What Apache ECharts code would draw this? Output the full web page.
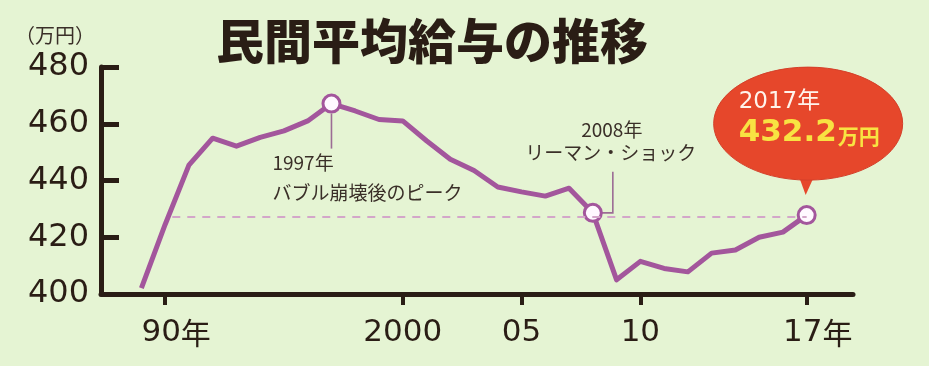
<!DOCTYPE html>
<html><head><meta charset="utf-8">
<script src="https://cdn.jsdelivr.net/npm/echarts@6/dist/echarts.min.js"></script>
<style>html,body{margin:0;padding:0;background:#e5f4d3}#c{width:929px;height:366px}</style>
</head><body><div id="c"></div>
<script>
const years = [1989,1990,1991,1992,1993,1994,1995,1996,1997,1998,1999,2000,2001,2002,2003,2004,2005,2006,2007,2008,2009,2010,2011,2012,2013,2014,2015,2016,2017];
const salary = [402.1,424.5,445.4,454.9,452.1,455.2,457.5,461.0,467.1,464.5,461.5,461.0,454.0,447.5,443.5,437.7,436.0,434.5,437.3,428.6,405.0,411.5,409.0,407.8,414.4,415.5,420.0,421.8,427.8];
const highlightYears = [1997, 2008, 2017];
const tickYears = [1990, 2000, 2005, 2010, 2017];
const tickLabels = ['90', '2000', '05', '10', '17'];
const tickSuffix = ['年', '', '', '', '年'];
const yTicks = [400, 420, 440, 460, 480];
const refLine = {value: 427.3, from: 1990.3, to: 2017};
const titleText = '民間平均給与の推移';
const unitText = '（万円）';
const note1997 = ['1997年', 'バブル崩壊後のピーク'];
const note2008 = ['2008年', 'リーマン・ショック'];
const bubble2017 = {year: '2017年', value: '432.2', unit: '万円'};

const PURPLE = '#a3569c';
const DARK = '#2a1d15';
const TEXT = '#3a2f28';
const CJK = '"Noto Sans CJK JP", "Noto Sans", sans-serif';
const NUM = '"DejaVu Sans", sans-serif';

const chart = echarts.init(document.getElementById('c'), null, {renderer: 'canvas'});
const data = years.map((y, i) => {
  const item = {value: [y, salary[i]]};
  if (highlightYears.includes(y)) {
    item.symbol = 'circle';
    item.symbolSize = 17;
    item.itemStyle = {color: '#fff8ff', borderColor: PURPLE, borderWidth: 3};
  } else {
    item.symbol = 'none';
  }
  return item;
});

chart.setOption({
  backgroundColor: '#e5f4d3',
  animation: false,
  title: {
    text: titleText, left: 211, top: 12,
    textStyle: {fontFamily: CJK, fontSize: 48, fontWeight: 900, color: DARK}
  },
  grid: {left: 101, right: 76, top: 67, bottom: 72, containLabel: false},
  xAxis: {
    type: 'value', min: 1987.3, max: 2018.95,
    axisLine: {show: true, lineStyle: {color: DARK, width: 5}},
    axisTick: {show: true, customValues: tickYears, length: 11, lineStyle: {color: DARK, width: 4}},
    axisLabel: {
      customValues: tickYears, margin: 23,
      formatter: v => {
        const i = tickYears.indexOf(v);
        return tickSuffix[i] ? '{sp|}{d|' + tickLabels[i] + '}{n|' + tickSuffix[i] + '}' : '{d|' + tickLabels[i] + '}';
      },
      rich: {
        sp: {width: 22},
        d: {fontFamily: NUM, fontSize: 31, color: DARK},
        n: {fontFamily: CJK, fontSize: 30, color: DARK}
      },
      fontFamily: NUM, fontSize: 31, color: DARK
    },
    splitLine: {show: false}
  },
  yAxis: {
    type: 'value', min: yTicks[0], max: yTicks[yTicks.length - 1], interval: 20,
    name: unitText, nameLocation: 'end', nameGap: 32,
    nameTextStyle: {fontFamily: CJK, fontSize: 20, color: TEXT, align: 'right', verticalAlign: 'middle', padding: [0, 6, 0, 0]},
    axisLine: {show: true, lineStyle: {color: DARK, width: 5}},
    axisTick: {show: true, inside: true, length: 18, lineStyle: {color: DARK, width: 5}},
    axisLabel: {margin: 12, fontFamily: NUM, fontSize: 32, color: DARK},
    splitLine: {show: false}
  },
  series: [{
    type: 'line', data: data, showSymbol: true,
    lineStyle: {color: PURPLE, width: 5, join: 'round'},
    itemStyle: {color: PURPLE},
    z: 3,
    markLine: {
      silent: true, symbol: 'none', label: {show: false},
      lineStyle: {color: '#d3a6c9', width: 2, type: [8, 7]},
      data: [[{coord: [refLine.from, refLine.value]}, {coord: [refLine.to, refLine.value]}]]
    }
  }]
});

function px(year) {
  const i = years.indexOf(year);
  return chart.convertToPixel({seriesIndex: 0}, [year, salary[i]]);
}
const p97 = px(1997), p08 = px(2008), p17 = px(2017);
const noteStyle = {fontFamily: CJK, fontSize: 19, fill: TEXT};
const graphics = [
  {type: 'line', shape: {x1: p97[0], y1: p97[1] + 10, x2: p97[0], y2: p97[1] + 45}, style: {stroke: '#9c6c95', lineWidth: 1.6}, z: 2},
  {type: 'text', x: p97[0] - 59, y: p97[1] + 59, style: Object.assign({text: note1997[0], verticalAlign: 'middle'}, noteStyle)},
  {type: 'text', x: p97[0] - 59, y: p97[1] + 89, style: Object.assign({text: note1997[1], verticalAlign: 'middle'}, noteStyle)},
  {type: 'polyline', shape: {points: [[p08[0] + 9, p08[1]], [p08[0] + 20, p08[1]], [p08[0] + 20, p08[1] - 41]]}, style: {stroke: '#9c6c95', lineWidth: 1.6, fill: null}, z: 2},
  {type: 'text', x: p08[0] + 19, y: p08[1] - 83, style: Object.assign({text: note2008[0], align: 'center', verticalAlign: 'middle'}, noteStyle)},
  {type: 'text', x: p08[0] + 18, y: p08[1] - 60, style: Object.assign({text: note2008[1], align: 'center', verticalAlign: 'middle'}, noteStyle)},
  {type: 'polygon', shape: {points: [[p17[0] - 9, p17[1] - 42], [p17[0] + 9, p17[1] - 42], [p17[0] - 1, p17[1] - 20]]}, style: {fill: '#e6472b'}, z: 4},
  {type: 'ellipse', shape: {cx: p17[0] + 1.5, cy: p17[1] - 91.5, rx: 94.5, ry: 56.5}, style: {fill: '#e6472b', stroke: '#d4402a', lineWidth: 1}, z: 4},
  {type: 'text', x: p17[0] - 68, y: p17[1] - 113, z: 5, style: {text: bubble2017.year, fontFamily: NUM + ',' + CJK, fontSize: 23, fill: '#fff4ec', verticalAlign: 'middle'}},
  {type: 'text', x: p17[0] - 68, y: p17[1] - 67, z: 5, style: {
    text: '{a|' + bubble2017.value + '}{b|' + bubble2017.unit + '}', verticalAlign: 'bottom',
    rich: {
      a: {fontFamily: NUM, fontSize: 31, fontWeight: 'bold', fill: '#f8e342', color: '#f8e342'},
      b: {fontFamily: CJK, fontSize: 21, fontWeight: 'bold', fill: '#f8e342', color: '#f8e342', padding: [6, 0, 0, 1]}
    }
  }}
];
chart.setOption({graphic: graphics});
</script></body></html>
